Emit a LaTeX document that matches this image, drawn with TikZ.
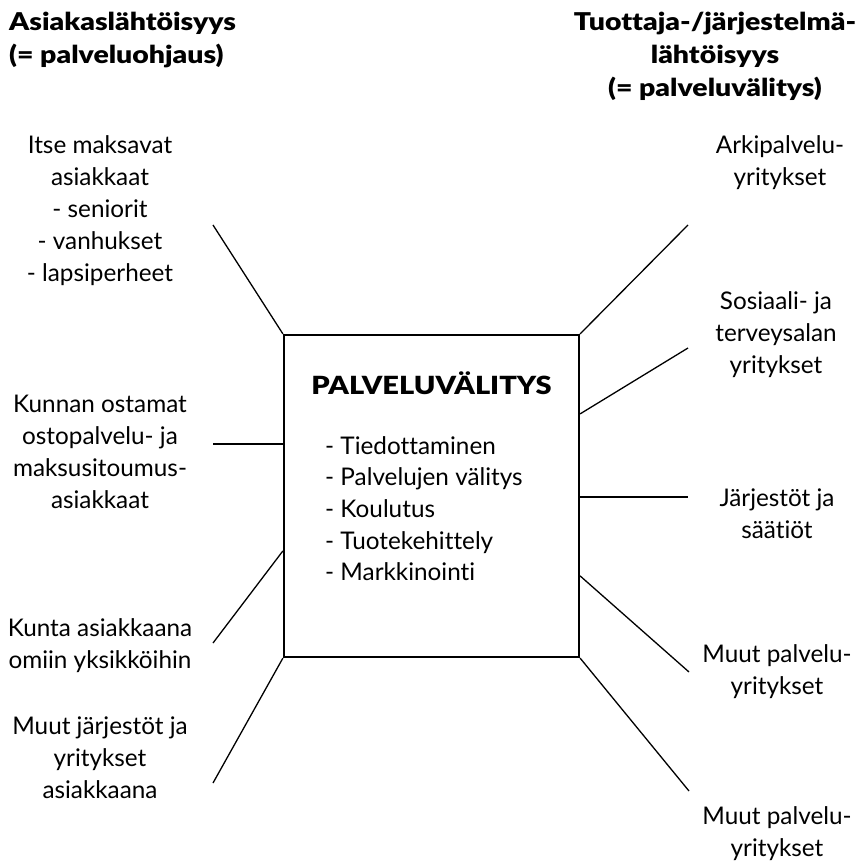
\documentclass[tikz,border=0pt]{standalone}
\usepackage{fontspec}
\setmainfont{Lato}[Ligatures={NoCommon,NoRare,NoContextual},BoldFont={Lato Black}]
\newfontfamily\headfont{Lato Black}[Ligatures={NoCommon,NoRare,NoContextual},FakeStretch=1.16]
\usetikzlibrary{calc}
\begin{document}
\begin{tikzpicture}[x=1pt,y=-1pt,
  txt/.style={inner sep=0pt,align=center,font=\fontsize{24.3}{32}\selectfont},
  ttl/.style={inner sep=0pt,font=\fontsize{24.5}{33}\selectfont\headfont},
  link/.style={line width=1.3pt},
  frame/.style={draw,line width=2.2pt,minimum width=295pt,minimum height=322pt,inner sep=0pt}]
\useasboundingbox (0,0) rectangle (863,861);

% headings
\node[ttl,anchor=west,align=left] (hl) at (9,39.5) {Asiakaslähtöisyys\\(= palveluohjaus)};
\node[ttl,align=center] (hr) at (715,56) {Tuottaja-/järjestelmä-\\lähtöisyys\\(= palveluvälitys)};

% central box
\node[frame] (box) at (431.5,496) {};
\node[inner sep=0pt,font=\fontsize{25}{30}\selectfont\headfont] (boxtitle) at (431.5,383) {PALVELUVÄLITYS};
\node[inner sep=0pt,anchor=north west,align=left,font=\fontsize{24.3}{31.7}\selectfont] (tasks) at (325,436)
  {- Tiedottaminen\\- Palvelujen välitys\\- Koulutus\\- Tuotekehittely\\- Markkinointi};

% left side groups
\node[txt] (l1) at (100,211) {Itse maksavat\\asiakkaat\\- seniorit\\- vanhukset\\- lapsiperheet};
\node[txt] (l2) at (100,452) {Kunnan ostamat\\ostopalvelu- ja\\maksusitoumus-\\asiakkaat};
\node[txt] (l3) at (100,646) {Kunta asiakkaana\\omiin yksikköihin};
\node[txt] (l4) at (100,758) {Muut järjestöt ja\\yritykset\\asiakkaana};

% right side groups
\node[txt] (r1) at (780,163) {Arkipalvelu-\\yritykset};
\node[txt] (r2) at (776,335) {Sosiaali- ja\\terveysalan\\yritykset};
\node[txt] (r3) at (777,514) {Järjestöt ja\\säätiöt};
\node[txt] (r4) at (777,672) {Muut palvelu-\\yritykset};
\node[txt] (r5) at (777,834) {Muut palvelu-\\yritykset};

% connector ends away from the box
\coordinate (el1) at (213,225);
\coordinate (el2) at (213,444);
\coordinate (el3) at (213,643);
\coordinate (el4) at (213,783);
\coordinate (er1) at (688,225);
\coordinate (er2) at (688,348);
\coordinate (er3) at (688,497);
\coordinate (er4) at (689,672);
\coordinate (er5) at (689,791);

% connectors
\draw[link] (box.north west) -- (el1);
\draw[link] (box.west |- el2) -- (el2);
\draw[link] ($(box.north west)+(0,217)$) -- (el3);
\draw[link] (box.south west) -- (el4);
\draw[link] (box.north east) -- (er1);
\draw[link] ($(box.north east)+(0,80)$) -- (er2);
\draw[link] (box.east |- er3) -- (er3);
\draw[link] ($(box.north east)+(0,242)$) -- (er4);
\draw[link] (box.south east) -- (er5);
\end{tikzpicture}
\end{document}
